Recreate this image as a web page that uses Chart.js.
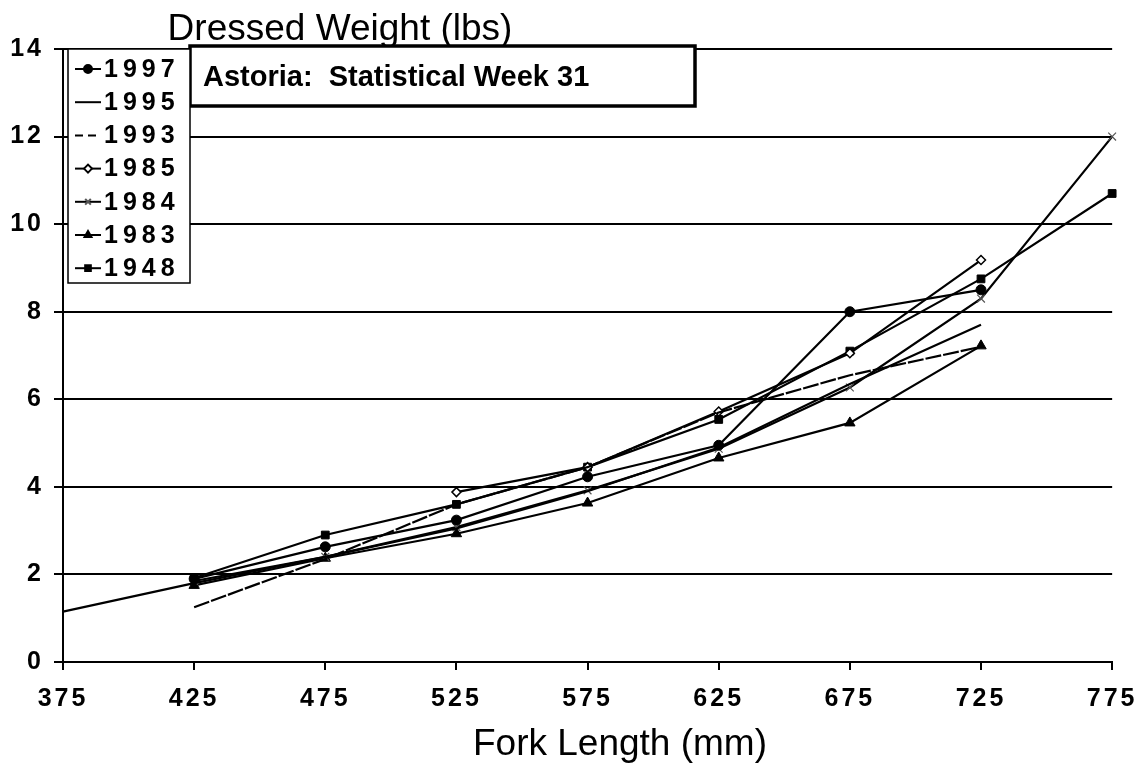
<!DOCTYPE html>
<html>
<head>
<meta charset="utf-8">
<script src="https://cdn.jsdelivr.net/npm/chart.js@4.4.1/dist/chart.umd.min.js"></script>
<style>
  html, body { margin: 0; padding: 0; background: #fff; }
  #wrap { width: 1147px; height: 771px; }
</style>
</head>
<body>
<div id="wrap"><canvas id="chart" width="1147" height="771"></canvas></div>
<script>
// fork length (mm) on x, dressed weight (lbs) on y
const lengths = [375, 425, 475, 525, 575, 625, 675, 725, 775]
const w1997 = [null, 1.9, 2.63, 3.24, 4.23, 4.95, 8.0, 8.5, null]
const w1995 = [1.15, 1.8, 2.4, 3.05, 3.9, 4.9, 6.35, 7.7, null]
const w1993 = [null, 1.25, 2.35, 3.6, 4.45, 5.7, 6.55, 7.2, null]
const w1985 = [null, null, null, 3.88, 4.45, 5.72, 7.05, 9.18, null]
const w1984 = [null, 1.85, 2.4, 3.08, 3.92, 4.87, 6.27, 8.3, 12.0]
const w1983 = [null, 1.75, 2.37, 2.93, 3.63, 4.66, 5.46, 7.22, null]
const w1948 = [null, 1.92, 2.9, 3.6, 4.45, 5.54, 7.1, 8.75, 10.7]
const yTicks = [0, 2, 4, 6, 8, 10, 12, 14]

const toPoints = vals => lengths.map((x, i) => ({ x: x, y: vals[i] }))

function series(label, vals, style, extra) {
  return Object.assign({
    label: label,
    data: toPoints(vals),
    borderColor: '#000',
    borderWidth: 2.2,
    pointStyle: style,
    pointRadius: style ? 5 : 0,
    pointBackgroundColor: '#000',
    pointBorderColor: '#000',
    pointBorderWidth: 1,
    fill: false,
    tension: 0,
    clip: false
  }, extra || {})
}

const datasets = [
  series('1997', w1997, 'circle'),
  series('1995', w1995, false),
  series('1993', w1993, false, { borderDash: [16, 2] }),
  series('1985', w1985, 'rectRot', { pointRadius: 4.5, pointBackgroundColor: '#fff', pointBorderWidth: 1.5 }),
  series('1984', w1984, 'crossRot', { pointRadius: 5.5, pointBorderWidth: 1.2, pointBorderColor: '#555' }),
  series('1983', w1983, 'triangle', { pointRadius: 6 }),
  series('1948', w1948, 'rect', { pointRadius: 5.5 })
]

const tickFont = { family: '"Liberation Sans", Arial, sans-serif', size: 25, weight: 'bold' }

const decor = {
  id: 'decor',
  beforeDraw(chart) {
    chart.ctx.letterSpacing = '3px'
  },
  afterDraw(chart) {
    const ctx = chart.ctx
    ctx.save()
    ctx.letterSpacing = '0px'
    ctx.fillStyle = '#000'
    ctx.textBaseline = 'middle'

    // axis titles
    ctx.font = '37px "Liberation Sans", Arial, sans-serif'
    ctx.textAlign = 'center'
    ctx.fillText('Dressed Weight (lbs)', 340, 30)
    ctx.fillText('Fork Length (mm)', 620, 745)

    // title box
    ctx.fillStyle = '#fff'
    ctx.fillRect(190, 46, 505, 60)
    ctx.strokeStyle = '#000'
    ctx.lineWidth = 3.5
    ctx.strokeRect(190, 46, 505, 60)
    ctx.fillStyle = '#000'
    ctx.textAlign = 'left'
    ctx.font = 'bold 29px "Liberation Sans", Arial, sans-serif'
    ctx.fillText('Astoria:  Statistical Week 31', 203, 78)

    // legend box
    ctx.fillStyle = '#fff'
    ctx.fillRect(68, 49, 122, 234)
    ctx.lineWidth = 1.5
    ctx.strokeRect(68, 49, 122, 234)
    ctx.font = 'bold 25px "Liberation Sans", Arial, sans-serif'
    ctx.letterSpacing = '5px'
    chart.data.datasets.forEach((ds, i) => {
      const y = 69 + i * 33.2
      ctx.strokeStyle = '#000'
      ctx.lineWidth = 2
      ctx.setLineDash(ds.borderDash ? [8, 5] : [])
      ctx.beginPath()
      ctx.moveTo(75, y)
      ctx.lineTo(101, y)
      ctx.stroke()
      ctx.setLineDash([])
      if (ds.pointStyle) {
        ctx.fillStyle = ds.pointBackgroundColor
        ctx.strokeStyle = ds.pointBorderColor
        Chart.helpers.drawPoint(ctx, {
          pointStyle: ds.pointStyle,
          radius: Math.min(ds.pointRadius, 4),
          borderWidth: ds.pointBorderWidth,
          rotation: 0
        }, 88, y)
      }
      ctx.fillStyle = '#000'
      ctx.fillText(ds.label, 104, y + 1)
    })
    ctx.restore()
    ctx.letterSpacing = '0px'
  }
}

new Chart(document.getElementById('chart'), {
  type: 'line',
  data: { datasets: datasets },
  plugins: [decor],
  options: {
    responsive: false,
    devicePixelRatio: 1,
    animation: false,
    layout: { padding: { left: 0, right: 31, top: 49, bottom: 0 } },
    plugins: {
      legend: { display: false },
      tooltip: { enabled: false },
      title: { display: false }
    },
    scales: {
      x: {
        type: 'linear',
        min: 375,
        max: 775,
        afterFit: s => { s.height = 109 },
        ticks: { stepSize: 50, color: '#000', padding: 14, font: tickFont },
        grid: { drawOnChartArea: false, drawTicks: true, tickLength: 8, color: '#000', lineWidth: 2 },
        border: { color: '#000', width: 2 }
      },
      y: {
        min: 0,
        max: 14,
        afterFit: s => { s.width = 63 },
        afterBuildTicks: s => { s.ticks = yTicks.map(v => ({ value: v })) },
        ticks: { color: '#000', padding: 10, font: tickFont },
        grid: { color: '#000', lineWidth: 2, tickLength: 9 },
        border: { color: '#000', width: 2 }
      }
    }
  }
})
</script>
</body>
</html>
